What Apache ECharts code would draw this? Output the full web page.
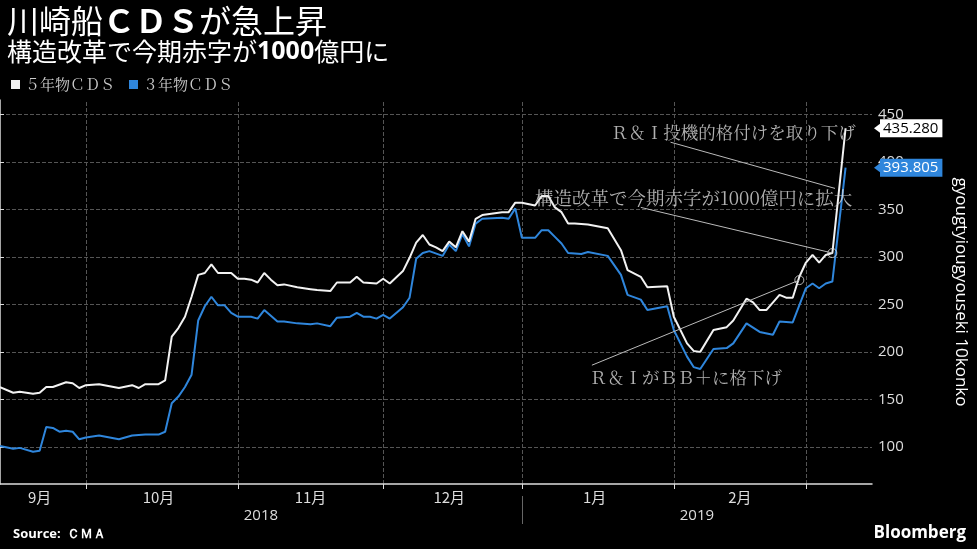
<!DOCTYPE html>
<html><head><meta charset="utf-8">
<script src="https://cdn.jsdelivr.net/npm/echarts@6/dist/echarts.min.js"></script>
<style>html,body{margin:0;background:#000}#c{width:977px;height:549px}</style>
</head><body><div id="c"></div>
<script>
// trading-day index 0 = 2018-09-12, weekdays only, to 2019-03-15 (index 132)
const monthStarts = [13, 36, 58, 79, 102, 122];       // first weekday of Oct, Nov, Dec, Jan, Feb, Mar
const monthLabelAt = [6, 24, 47, 68, 90, 112];
const monthLabels = ['9月', '10月', '11月', '12月', '1月', '2月'];
const yearLabelAt = [39.5, 105.5];
const yearLabels = ['2018', '2019'];
const yearSplit = 79;
const yTicks = [100, 150, 200, 250, 300, 350, 400, 450];

const day5y = [0,2,3,5,6,7,8,10,11,12,13,15,18,20,21,22,24,25,26,27,28,29,30,31,32,33,35,36,37,38,39,40,41,42,43,45,47,48,50,51,53,54,55,57,58,59,61,62,63,64,65,66,67,68,69,70,71,72,73,76,77,78,79,81,82,83,84,85,86,87,89,92,94,95,97,98,101,102,104,105,106,108,110,111,113,114,115,116,118,119,120,121,122,123,124,125,126,128];
const cds5y = [163,157,158,156,157,163,163,168,167,162,165,166,162,165,162,166,166,170,216,225,237,258,281,283,292,283,283,277,277,276,273,283,276,270,271,268,266,265,264,273,273,279,273,272,277,272,285,299,315,323,313,310,306,316,310,327,316,340,344,347,347,357,357,354,364,364,352,347,335,335,334,330,307,286,279,268,269,237,209,201,200,223,226,233,256,252,244,244,260,257,257,279,294,302,294,302,304,435.28];

const day3y = [0,2,3,5,6,7,8,9,10,11,12,13,15,18,20,22,24,25,26,27,28,29,30,31,32,33,34,35,36,38,39,40,42,43,45,47,48,50,51,53,54,55,56,57,58,59,61,62,63,64,65,67,68,69,70,71,72,73,76,77,78,79,81,82,83,84,85,86,88,89,92,94,95,97,98,101,102,104,105,106,108,110,111,113,115,117,118,120,122,123,124,125,126,128];
const cds3y = [101,98,99,95,96,121,120,116,117,116,108,110,112,108,112,113,113,116,146,153,163,176,233,248,258,249,249,241,237,237,235,244,232,232,230,229,230,227,236,237,241,237,237,235,239,235,247,257,298,304,306,301,313,306,324,311,335,340,341,340,351,320,320,328,328,321,314,304,303,305,301,281,260,255,244,248,223,195,184,182,203,204,209,230,221,218,232,231,267,272,267,272,274,393.805];

const annoText = ['Ｒ＆Ｉ投機的格付けを取り下げ', '構造改革で今期赤字が1000億円に拡大', 'Ｒ＆ＩがＢＢ＋に格下げ'];
const annoTextAt = [[111, 431], [105, 362], [103.8, 173.6]];
const annoFrom = [[101.5, 420.6], [97, 352], [89.6, 186]];
const annoTo = [[126.4, 372], [126, 304], [121, 275.5]];
const annoCircle = [false, true, true];
const annoSize = [17.5, 18.5, 17.5];

const pair = (d, v) => d.map((x, i) => [x, v[i]]);
const chart = echarts.init(document.getElementById('c'));
const font = 'Noto Sans CJK JP';
const serif = 'Noto Serif CJK JP, Noto Sans CJK JP';
const last5 = cds5y[cds5y.length - 1], last3 = cds3y[cds3y.length - 1];
const endMark = (v, bg, fg) => ({
  coord: [132, v], symbol: 'triangle', symbolRotate: 90, symbolSize: [12, 8], symbolOffset: [6, 0],
  itemStyle: { color: bg },
  label: { show: true, position: 'right', distance: -2, formatter: v.toFixed(3), backgroundColor: bg, color: fg,
           fontSize: 15, fontFamily: 'Open Sans', padding: [2, 4, 1, 3] }
});

chart.setOption({
  backgroundColor: '#000',
  animation: false,
  title: [
    { text: '川崎船{b|ＣＤＳ}が急上昇', left: 2, top: 0,
      textStyle: { color: '#fff', fontSize: 32, fontWeight: 'normal', fontFamily: font,
        rich: { b: { color: '#fff', fontSize: 32, fontWeight: 'bold', fontFamily: font } } } },
    { text: '構造改革で今期赤字が{b|1000}億円に', left: 2, top: 34,
      textStyle: { color: '#fff', fontSize: 25, fontWeight: 'normal', fontFamily: font,
        rich: { b: { color: '#fff', fontSize: 25, fontWeight: 'bold', fontFamily: 'Open Sans' } } } },
    { text: 'Source:  ＣＭＡ', left: 8, bottom: 3, textStyle: { color: '#fff', fontSize: 13, fontWeight: 'bold', fontFamily: 'Open Sans' } },
    { text: 'Bloomberg', right: 6, bottom: 2, textStyle: { color: '#fff', fontSize: 17, fontWeight: 'bold', fontFamily: 'Open Sans' } }
  ],
  legend: { left: 6, top: 72, icon: 'rect', itemWidth: 9, itemHeight: 9, itemGap: 14,
    textStyle: { color: '#ccc', fontSize: 15, fontFamily: serif }, data: ['５年物ＣＤＳ', '３年物ＣＤＳ'] },
  grid: { left: 0, right: 101, top: 100, bottom: 65 },
  xAxis: [
    { type: 'value', min: 0, max: 132,
      axisLine: { show: true, onZero: false, lineStyle: { color: '#ddd', width: 1.5 } },
      axisTick: { show: true, customValues: monthStarts, length: 5, lineStyle: { color: '#ddd' } },
      splitLine: { show: false },
      axisLabel: { customValues: monthLabelAt, color: '#ddd', fontSize: 15, fontFamily: font, margin: 6,
        formatter: v => monthLabels[monthLabelAt.indexOf(v)] } },
    { type: 'value', min: 0, max: 132, position: 'bottom', offset: 12,
      axisLine: { show: false },
      axisTick: { show: true, customValues: [yearSplit], length: 28, lineStyle: { color: '#666' } },
      splitLine: { show: false },
      axisLabel: { customValues: yearLabelAt, color: '#ddd', fontSize: 15, fontFamily: 'Open Sans', margin: 12,
        formatter: v => yearLabels[yearLabelAt.indexOf(v)] } }
  ],
  yAxis: { type: 'value', position: 'right', min: 61, max: 465,
    name: 'gyougtyiougyouseki 10konko', nameLocation: 'middle', nameRotate: -90, nameGap: 80,
    nameTextStyle: { color: '#fff', fontSize: 17, fontFamily: 'Open Sans' },
    axisLine: { show: true, lineStyle: { color: '#ddd', width: 1.5 } },
    axisTick: { show: true, customValues: yTicks, length: 4, inside: false, lineStyle: { color: '#ddd' } },
    splitLine: { show: true, lineStyle: { color: '#555', type: 'dashed' } },
    axisLabel: { customValues: yTicks, color: '#ddd', fontSize: 15, fontFamily: 'Open Sans', margin: 6 } },
  series: [
    { name: '５年物ＣＤＳ', type: 'line', data: pair(day5y, cds5y), showSymbol: false, color: '#f2f2f2',
      lineStyle: { width: 2 }, z: 3,
      markPoint: { silent: true, data: [endMark(last5, '#fff', '#000')] },
      markLine: { silent: true, symbol: ['none', 'none'], animation: false,
        lineStyle: { color: '#bbb', width: 1, type: 'solid' }, label: { show: false },
        data: annoFrom.map((f, i) => [{ coord: f }, { coord: annoTo[i] }]) } },
    { name: '３年物ＣＤＳ', type: 'line', data: pair(day3y, cds3y), showSymbol: false, color: '#2f86dc',
      lineStyle: { width: 2 }, z: 2,
      markPoint: { silent: true, data: [endMark(last3, '#2f86dc', '#fff')] },
      markLine: { silent: true, symbol: ['none', 'none'], animation: false, z: 0,
        lineStyle: { color: '#555', width: 1, type: 'dashed' }, label: { show: false },
        data: monthStarts.map(m => ({ xAxis: m })) } },
    { name: 'anno', type: 'scatter', z: 5, silent: true,
      data: annoTextAt.map((p, i) => ({ value: p, symbolSize: 0,
        label: { show: true, position: 'inside', formatter: annoText[i], color: '#ddd', fontSize: annoSize[i], fontFamily: serif } })) },
    { name: 'circ', type: 'scatter', z: 6, silent: true, symbol: 'circle', symbolSize: 9,
      itemStyle: { color: 'transparent', borderColor: '#ddd', borderWidth: 1 },
      data: annoTo.filter((p, i) => annoCircle[i]) }
  ]
});
</script></body></html>
